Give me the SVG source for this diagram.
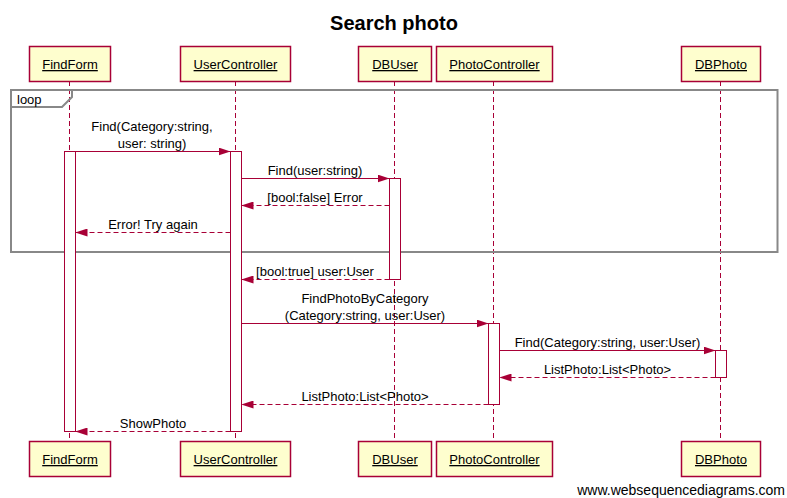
<svg xmlns="http://www.w3.org/2000/svg" width="787" height="498" viewBox="0 0 787 498">
<style>
text{font-family:"Liberation Sans",Arial,sans-serif;font-size:13px;fill:#000}
.actor rect{fill:#FEFECE;stroke:#A80036;stroke-width:1.5}
.actor text{text-anchor:middle;text-decoration:underline}
.life{stroke:#A80036;stroke-width:1;stroke-dasharray:5,3}
.act{fill:#fff;stroke:#A80036;stroke-width:1}
.msg{stroke:#A80036;stroke-width:1;fill:none}
.ret{stroke:#A80036;stroke-width:1;fill:none;stroke-dasharray:5,3}
.lbl{text-anchor:middle}
.frame{fill:none;stroke:#888;stroke-width:2}
</style>
<defs>
<marker id="ah" markerWidth="12" markerHeight="8" refX="12" refY="4" orient="auto" markerUnits="userSpaceOnUse">
<path d="M0,0 L12,4 L0,8 Z" fill="#A80036"/>
</marker>
</defs>
<rect width="787" height="498" fill="#fff"/>
<text x="394" y="30" style="font-size:20px;font-weight:bold" text-anchor="middle">Search photo</text>

<g id="lifelines">
<line class="life" x1="69.5" y1="81" x2="69.5" y2="441"/>
<line class="life" x1="235.5" y1="81" x2="235.5" y2="441"/>
<line class="life" x1="394.5" y1="81" x2="394.5" y2="441"/>
<line class="life" x1="493.5" y1="81" x2="493.5" y2="441"/>
<line class="life" x1="720.5" y1="81" x2="720.5" y2="441"/>
</g>

<g id="loop">
<rect class="frame" x="11" y="90" width="766.5" height="162"/>
<path class="frame" d="M11,107 L62,107 L72,97 L72,90"/>
<text x="17" y="104">loop</text>
</g>

<g id="activations">
<rect class="act" x="64.5" y="151.5" width="11" height="280"/>
<rect class="act" x="230.5" y="151.5" width="11" height="280"/>
<rect class="act" x="389.5" y="178.5" width="11" height="101"/>
<rect class="act" x="488.5" y="323.5" width="11" height="81"/>
<rect class="act" x="715.5" y="350.5" width="11" height="27"/>
</g>

<g id="FindForm" class="actor">
<rect x="29.5" y="46.5" width="81" height="35"/><text x="70" y="69">FindForm</text>
<rect x="29.5" y="441.5" width="81" height="35"/><text x="70" y="464">FindForm</text>
</g>
<g id="UserController" class="actor">
<rect x="180.5" y="46.5" width="110" height="35"/><text x="235.5" y="69">UserController</text>
<rect x="180.5" y="441.5" width="110" height="35"/><text x="235.5" y="464">UserController</text>
</g>
<g id="DBUser" class="actor">
<rect x="358.5" y="46.5" width="73" height="35"/><text x="395" y="69">DBUser</text>
<rect x="358.5" y="441.5" width="73" height="35"/><text x="395" y="464">DBUser</text>
</g>
<g id="PhotoController" class="actor">
<rect x="436.5" y="46.5" width="116" height="35"/><text x="494.5" y="69">PhotoController</text>
<rect x="436.5" y="441.5" width="116" height="35"/><text x="494.5" y="464">PhotoController</text>
</g>
<g id="DBPhoto" class="actor">
<rect x="681.5" y="46.5" width="79" height="35"/><text x="721" y="69">DBPhoto</text>
<rect x="681.5" y="441.5" width="79" height="35"/><text x="721" y="464">DBPhoto</text>
</g>

<g id="connectors">
<line class="msg" x1="75.5" y1="151.5" x2="230.5" y2="151.5" marker-end="url(#ah)"/>
<text class="lbl" x="152" y="131">Find(Category:string,</text>
<text class="lbl" x="152" y="148">user: string)</text>

<line class="msg" x1="241.5" y1="178.5" x2="389.5" y2="178.5" marker-end="url(#ah)"/>
<text class="lbl" x="315" y="175">Find(user:string)</text>

<line class="ret" x1="389.5" y1="205.5" x2="241.5" y2="205.5" marker-end="url(#ah)"/>
<text class="lbl" x="315" y="202">[bool:false] Error</text>

<line class="ret" x1="230.5" y1="232.5" x2="75.5" y2="232.5" marker-end="url(#ah)"/>
<text class="lbl" x="153" y="229">Error! Try again</text>

<line class="ret" x1="389.5" y1="279.5" x2="241.5" y2="279.5" marker-end="url(#ah)"/>
<text class="lbl" x="315" y="276">[bool:true] user:User</text>

<line class="msg" x1="241.5" y1="323.5" x2="488.5" y2="323.5" marker-end="url(#ah)"/>
<text class="lbl" x="365" y="303">FindPhotoByCategory</text>
<text class="lbl" x="365" y="320">(Category:string, user:User)</text>

<line class="msg" x1="499.5" y1="350.5" x2="715.5" y2="350.5" marker-end="url(#ah)"/>
<text class="lbl" x="607.5" y="347">Find(Category:string, user:User)</text>

<line class="ret" x1="715.5" y1="377.5" x2="499.5" y2="377.5" marker-end="url(#ah)"/>
<text class="lbl" x="607.5" y="374">ListPhoto:List&lt;Photo&gt;</text>

<line class="ret" x1="488.5" y1="404.5" x2="241.5" y2="404.5" marker-end="url(#ah)"/>
<text class="lbl" x="365" y="401">ListPhoto:List&lt;Photo&gt;</text>

<line class="ret" x1="230.5" y1="431.5" x2="75.5" y2="431.5" marker-end="url(#ah)"/>
<text class="lbl" x="153" y="428">ShowPhoto</text>
</g>

<text x="785" y="495" text-anchor="end" style="font-size:14px">www.websequencediagrams.com</text>
</svg>
